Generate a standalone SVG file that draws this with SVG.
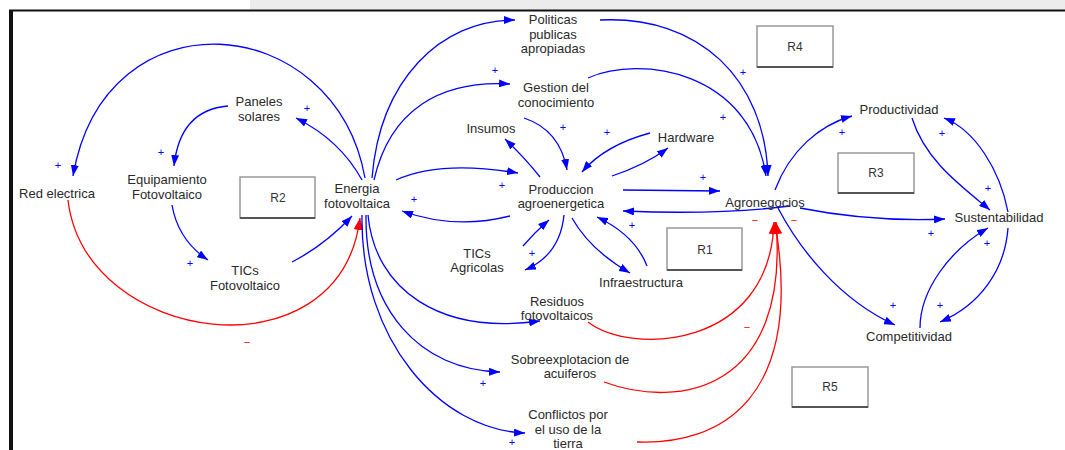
<svg xmlns="http://www.w3.org/2000/svg" width="1065" height="450" viewBox="0 0 1065 450">
<style>
.lbl{font-family:"Liberation Sans",Arial,sans-serif;font-size:13px;fill:#2a2a2a;text-anchor:middle}
.box{fill:#fff;stroke:#999;stroke-width:1.5}
.boxb{stroke:#555;stroke-width:2}
.rt{font-family:"Liberation Sans",Arial,sans-serif;font-size:12px;fill:#333;text-anchor:middle}
.b{fill:none;stroke:#0000ff;stroke-width:1.3;marker-end:url(#ab)}
.r{fill:none;stroke:#ff0000;stroke-width:1.3;marker-end:url(#ar)}
.p{font-family:"Liberation Sans",Arial,sans-serif;font-size:11px;fill:#0000ff;text-anchor:middle}
.m{font-family:"Liberation Sans",Arial,sans-serif;font-size:11px;fill:#ff0000;text-anchor:middle}
</style>
<defs>
<marker id="ab" markerUnits="userSpaceOnUse" markerWidth="11" markerHeight="8" refX="11" refY="4" orient="auto"><path d="M0,0 L11,4 L0,8 z" fill="#0000ff"/></marker>
<marker id="ar" markerUnits="userSpaceOnUse" markerWidth="12" markerHeight="10" refX="12" refY="5" orient="auto"><path d="M0,0 L12,5 L0,10 z" fill="#ff0000"/></marker>
</defs>
<rect x="0" y="0" width="1065" height="450" fill="#fff"/>
<rect x="250" y="0" width="815" height="10" fill="#ececec"/>
<line x1="9" y1="10.5" x2="1065" y2="10.5" stroke="#111" stroke-width="2"/>
<line x1="11" y1="10" x2="11" y2="450" stroke="#111" stroke-width="4"/>

<g id="connectors">
<path class="b" d="M365 178 C335 10,105 -10,73 176"/>
<path class="r" d="M68 200 C85 345,340 380,360 218"/>
<path class="b" d="M362 180 Q340 140 296 118"/>
<path class="b" d="M228 106 Q180 110 174 166"/>
<path class="b" d="M172 205 Q178 240 208 260"/>
<path class="b" d="M292 262 Q325 245 352 216"/>
<path class="b" d="M396 180 Q440 160 518 173"/>
<path class="b" d="M510 216 Q455 230 402 211"/>
<path class="b" d="M372 178 C380 80,440 20,515 20"/>
<path class="b" d="M600 20 C700 15,765 80,768 176"/>
<path class="b" d="M374 180 C390 110,440 80,510 84"/>
<path class="b" d="M588 78 C640 55,750 70,766 176"/>
<path class="b" d="M524 118 Q560 130 567 170"/>
<path class="b" d="M540 177 Q525 158 505 139"/>
<path class="b" d="M650 133 Q605 145 582 172"/>
<path class="b" d="M612 176 Q645 165 668 148"/>
<path class="b" d="M623 190 L720 191"/>
<path class="b" d="M790 206 Q720 215 623 211"/>
<path class="b" d="M572 218 Q590 250 630 273"/>
<path class="b" d="M647 266 Q635 235 597 217"/>
<path class="b" d="M564 215 Q560 255 525 270"/>
<path class="b" d="M523 246 Q535 232 549 220"/>
<path class="b" d="M368 215 C375 290,440 335,540 321"/>
<path class="r" d="M588 322 C630 355,770 350,774 222"/>
<path class="b" d="M366 215 C365 310,420 370,500 372"/>
<path class="r" d="M604 382 C680 410,790 390,776 222"/>
<path class="b" d="M362 215 C360 340,440 430,525 433"/>
<path class="r" d="M637 442 C720 445,805 400,775 222"/>
<path class="b" d="M775 190 C790 150,820 125,852 116"/>
<path class="b" d="M912 118 C925 160,960 185,990 210"/>
<path class="b" d="M1008 212 C1000 170,975 130,944 118"/>
<path class="b" d="M800 208 Q870 222 945 219"/>
<path class="b" d="M778 208 C800 250,840 300,895 325"/>
<path class="b" d="M920 328 C920 290,950 250,988 228"/>
<path class="b" d="M1008 228 C1005 270,980 305,940 322"/>
</g>

<g id="polarities">
<text class="p" x="58" y="169">+</text>
<text class="m" x="247" y="346">−</text>
<text class="p" x="307" y="112">+</text>
<text class="p" x="161" y="156">+</text>
<text class="p" x="190" y="267">+</text>
<text class="p" x="502" y="189">+</text>
<text class="p" x="414" y="203">+</text>
<text class="p" x="495" y="74">+</text>
<text class="p" x="743" y="76">+</text>
<text class="p" x="723" y="121">+</text>
<text class="p" x="563" y="131">+</text>
<text class="p" x="607" y="136">+</text>
<text class="p" x="703" y="181">+</text>
<text class="p" x="632" y="229">+</text>
<text class="p" x="532" y="257">+</text>
<text class="p" x="483" y="387">+</text>
<text class="p" x="512" y="446">+</text>
<text class="m" x="747" y="331">−</text>
<text class="m" x="755" y="224">−</text>
<text class="m" x="794" y="224">−</text>
<text class="p" x="842" y="136">+</text>
<text class="p" x="988" y="192">+</text>
<text class="p" x="942" y="137">+</text>
<text class="p" x="931" y="237">+</text>
<text class="p" x="893" y="309">+</text>
<text class="p" x="987" y="247">+</text>
<text class="p" x="940" y="309">+</text>
</g>

<g id="n-red"><text class="lbl" x="57" y="198">Red electrica</text></g>
<g id="n-paneles"><text class="lbl" x="259" y="106">Paneles</text><text class="lbl" x="259" y="121">solares</text></g>
<g id="n-equip"><text class="lbl" x="167" y="184">Equipamiento</text><text class="lbl" x="167" y="199">Fotovoltaico</text></g>
<g id="n-ticsfv"><text class="lbl" x="245" y="275">TICs</text><text class="lbl" x="245" y="290">Fotovoltaico</text></g>
<g id="n-energia"><text class="lbl" x="357" y="193">Energia</text><text class="lbl" x="357" y="208">fotovoltaica</text></g>
<g id="n-politicas"><text class="lbl" x="553" y="24">Politicas</text><text class="lbl" x="553" y="39">publicas</text><text class="lbl" x="553" y="53">apropiadas</text></g>
<g id="n-gestion"><text class="lbl" x="556" y="92">Gestion del</text><text class="lbl" x="556" y="107">conocimiento</text></g>
<g id="n-insumos"><text class="lbl" x="491" y="133">Insumos</text></g>
<g id="n-hardware"><text class="lbl" x="686" y="142">Hardware</text></g>
<g id="n-produccion"><text class="lbl" x="561" y="194">Produccion</text><text class="lbl" x="561" y="208">agroenergetica</text></g>
<g id="n-agro"><text class="lbl" x="765" y="207">Agronegocios</text></g>
<g id="n-ticsagr"><text class="lbl" x="477" y="258">TICs</text><text class="lbl" x="477" y="272">Agricolas</text></g>
<g id="n-infra"><text class="lbl" x="641" y="287">Infraestructura</text></g>
<g id="n-residuos"><text class="lbl" x="557" y="306">Residuos</text><text class="lbl" x="557" y="320">fotovoltaicos</text></g>
<g id="n-sobre"><text class="lbl" x="570" y="364">Sobreexplotacion de</text><text class="lbl" x="570" y="378">acuiferos</text></g>
<g id="n-conflictos"><text class="lbl" x="568" y="419">Conflictos por</text><text class="lbl" x="568" y="434">el uso de la</text><text class="lbl" x="568" y="448">tierra</text></g>
<g id="n-productividad"><text class="lbl" x="899" y="114">Productividad</text></g>
<g id="n-sust"><text class="lbl" x="999" y="222">Sustentabilidad</text></g>
<g id="n-compet"><text class="lbl" x="909" y="341">Competitividad</text></g>

<g id="loop-r2"><rect class="box" x="240" y="177" width="75" height="41"/><line class="boxb" x1="240" y1="218" x2="315" y2="218"/><text class="rt" x="278" y="202">R2</text></g>
<g id="loop-r4"><rect class="box" x="757" y="26" width="76" height="41"/><line class="boxb" x1="757" y1="67" x2="833" y2="67"/><text class="rt" x="795" y="51">R4</text></g>
<g id="loop-r3"><rect class="box" x="838" y="153" width="76" height="40"/><line class="boxb" x1="838" y1="193" x2="914" y2="193"/><text class="rt" x="876" y="177">R3</text></g>
<g id="loop-r1"><rect class="box" x="667" y="228" width="75" height="42"/><line class="boxb" x1="667" y1="270" x2="742" y2="270"/><text class="rt" x="705" y="254">R1</text></g>
<g id="loop-r5"><rect class="box" x="792" y="367" width="76" height="40"/><line class="boxb" x1="792" y1="407" x2="868" y2="407"/><text class="rt" x="830" y="391">R5</text></g>
</svg>
